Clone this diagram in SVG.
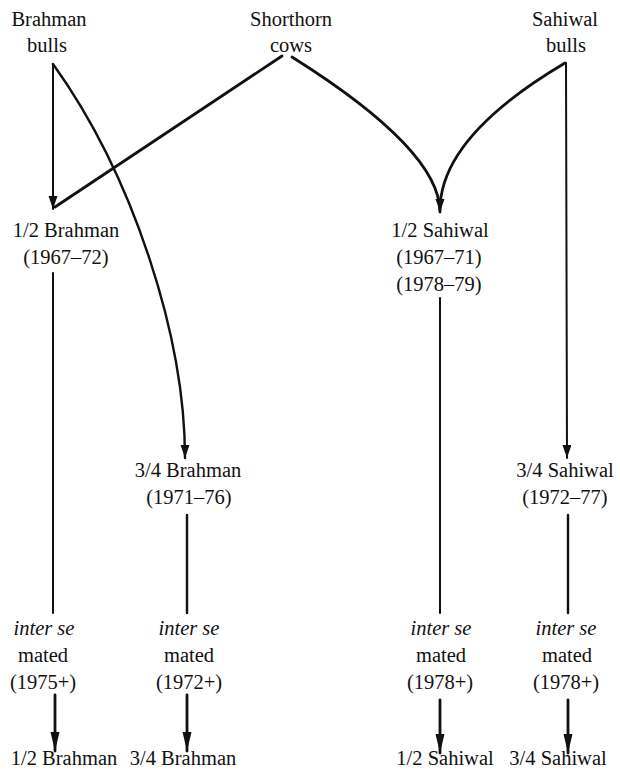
<svg xmlns="http://www.w3.org/2000/svg" width="620" height="773" viewBox="0 0 620 773">
<style>
text{font-family:'Liberation Serif','DejaVu Serif','Times New Roman',serif;font-size:20.5px;fill:#111;text-anchor:middle}
.it{font-style:italic}
.c{fill:none;stroke:#111;stroke-linecap:round;stroke-linejoin:round}
.t2{stroke-width:2}
.t25{stroke-width:2.4}
.t3{stroke-width:2.8}
</style>
<defs>
<marker id="ah" markerUnits="userSpaceOnUse" markerWidth="14" markerHeight="10" refX="13" refY="4.5" orient="auto">
<path d="M0,0 L13,4.5 L0,9 Z" fill="#111"/>
</marker>
<marker id="ahl" markerUnits="userSpaceOnUse" markerWidth="20" markerHeight="10" refX="19" refY="4.5" orient="auto">
<path d="M0,0 L19,4.5 L0,9 Z" fill="#111"/>
</marker>
</defs>
<g id="connectors">
<path class="c t2" d="M53,64 L53,209" marker-end="url(#ah)"/>
<path class="c t3" d="M282,56 L55,207"/>
<path class="c t25" d="M53,64 C134,177 185,338 185,458" marker-end="url(#ah)"/>
<path class="c t3" d="M292,57 Q440,150 440,212" marker-end="url(#ah)"/>
<path class="c t3" d="M565,63 Q440,137 440,210"/>
<path class="c t2" d="M566,63 L567,458" marker-end="url(#ah)"/>
<path class="c t2" d="M53,273 L53,613"/>
<path class="c t25" d="M187,515 L187,613"/>
<path class="c t2" d="M440,298 L440,613"/>
<path class="c t25" d="M568,515 L568,613"/>
<path class="c t3" d="M55,695 L55,751" marker-end="url(#ahl)"/>
<path class="c t3" d="M187,695 L187,751" marker-end="url(#ahl)"/>
<path class="c t3" d="M440,700 L440,753" marker-end="url(#ahl)"/>
<path class="c t3" d="M568,700 L568,753" marker-end="url(#ahl)"/>
</g>
<g font-family="Liberation Serif, serif">
<g id="brahman-bulls"><text x="49" y="26">Brahman</text><text x="47" y="52">bulls</text></g>
<g id="shorthorn-cows"><text x="291" y="26">Shorthorn</text><text x="291" y="52">cows</text></g>
<g id="sahiwal-bulls"><text x="565" y="26">Sahiwal</text><text x="566" y="52">bulls</text></g>
<g id="half-brahman"><text x="66" y="237">1/2 Brahman</text><text x="66" y="264">(1967–72)</text></g>
<g id="half-sahiwal"><text x="440" y="237">1/2 Sahiwal</text><text x="439" y="264">(1967–71)</text><text x="439" y="291">(1978–79)</text></g>
<g id="three-quarter-brahman"><text x="188" y="477">3/4 Brahman</text><text x="189" y="504">(1971–76)</text></g>
<g id="three-quarter-sahiwal"><text x="565" y="477">3/4 Sahiwal</text><text x="565" y="504">(1972–77)</text></g>
<g id="mated-half-brahman"><text class="it" x="44" y="635">inter se</text><text x="43" y="662">mated</text><text x="43" y="689">(1975+)</text></g>
<g id="mated-three-quarter-brahman"><text class="it" x="189" y="635">inter se</text><text x="189" y="662">mated</text><text x="189" y="689">(1972+)</text></g>
<g id="mated-half-sahiwal"><text class="it" x="441" y="635">inter se</text><text x="441" y="662">mated</text><text x="440" y="689">(1978+)</text></g>
<g id="mated-three-quarter-sahiwal"><text class="it" x="566" y="635">inter se</text><text x="567" y="662">mated</text><text x="566" y="689">(1978+)</text></g>
<g id="out-half-brahman"><text x="64" y="765">1/2 Brahman</text></g>
<g id="out-three-quarter-brahman"><text x="183" y="765">3/4 Brahman</text></g>
<g id="out-half-sahiwal"><text x="445" y="765">1/2 Sahiwal</text></g>
<g id="out-three-quarter-sahiwal"><text x="558" y="765">3/4 Sahiwal</text></g>
</g>
</svg>
